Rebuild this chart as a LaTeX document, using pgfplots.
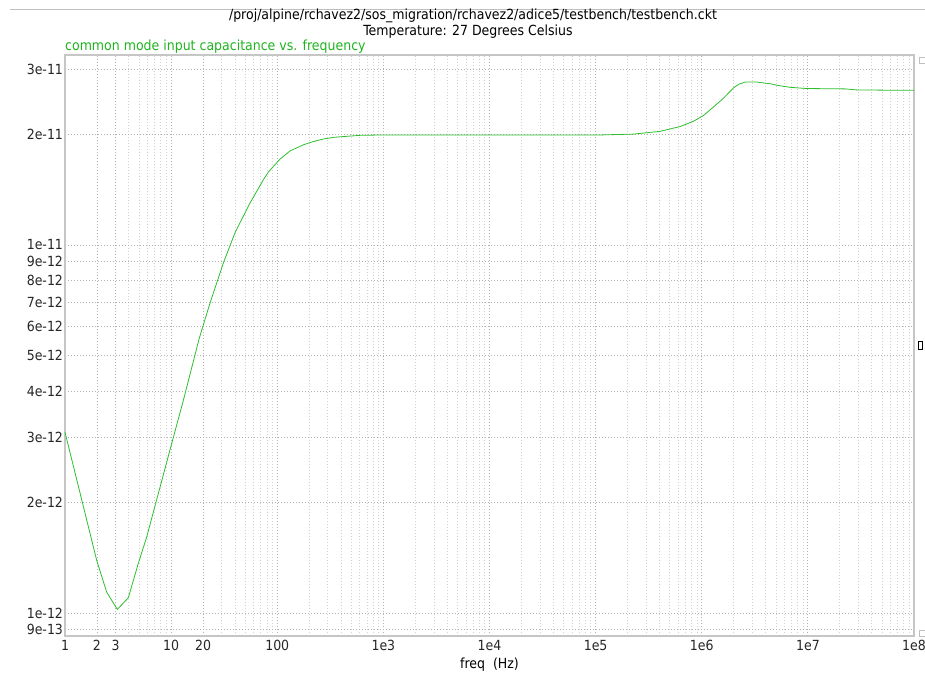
\documentclass[border=0pt]{standalone}
\usepackage{fontspec}
\setmainfont{DejaVu Sans Condensed}
\usepackage{pgfplots}
\pgfplotsset{compat=1.18}
\definecolor{curve}{RGB}{45,190,45}
\definecolor{lbl}{RGB}{30,180,30}
\pgfplotstableread{
f C
1 3.10e-12
1.99 1.39e-12
2.47 1.14e-12
3.11 1.023e-12
3.95 1.10e-12
4.91 1.365e-12
5.89 1.61e-12
10.1 2.88e-12
13.0 3.77e-12
18.3 5.54e-12
23.2 6.94e-12
31 8.92e-12
40 1.08e-11
55.4 1.30e-11
73.9 1.502e-11
82.5 1.578e-11
106 1.71e-11
132 1.80e-11
176 1.87e-11
219 1.91e-11
272 1.94e-11
340 1.96e-11
420 1.97e-11
600 1.985e-11
1000 1.99e-11
1.1e5 1.99e-11
2.27e5 2.0e-11
4.05e5 2.035e-11
6.26e5 2.097e-11
8.36e5 2.168e-11
1.04e6 2.248e-11
1.29e6 2.37e-11
1.60e6 2.503e-11
1.99e6 2.67e-11
2.25e6 2.735e-11
2.57e6 2.77e-11
3.3e6 2.77e-11
4.42e6 2.74e-11
5.28e6 2.71e-11
6.81e6 2.68e-11
9.77e6 2.66e-11
2.24e7 2.654e-11
2.9e7 2.637e-11
5.97e7 2.632e-11
1e8 2.63e-11
}\captable
\begin{document}
\begin{tikzpicture}[x=1bp,y=1bp]
\useasboundingbox (-65,-41) rectangle (860,636);
\draw[gray!50, line width=0.8bp] (-55,627) -- (860,627);
\node[anchor=base, inner sep=0pt, font=\fontsize{14}{16}\selectfont] at (408,616) {/proj/alpine/rchavez2/sos\_migration/rchavez2/adice5/testbench/testbench.ckt};
\node[anchor=base, inner sep=0pt, font=\fontsize{14}{16}\selectfont] at (403,600) {Temperature: 27 Degrees Celsius};
\node[anchor=base west, inner sep=0pt, font=\fontsize{14}{16}\selectfont, text=lbl] at (0,585) {common mode input capacitance vs. frequency};
\begin{axis}[
  at={(0,0)}, anchor=south west, scale only axis,
  width=849bp, height=581bp,
  xmode=log, ymode=log,
  xmin=1, xmax=1e8, ymin=8.66e-13, ymax=3.28e-11,
  axis line style={draw=gray!45, line width=1.3bp},
  major tick length=0pt, minor tick length=0pt,
  xtick={1,2,3,10,20,100,1e3,1e4,1e5,1e6,1e7,1e8},
  xticklabels={1,2,3,10,20,100,1e3,1e4,1e5,1e6,1e7,1e8},
  minor xtick={4,5,6,7,8,9,30,40,50,60,70,80,90,
    200,300,400,500,600,700,800,900,
    2e3,3e3,4e3,5e3,6e3,7e3,8e3,9e3,
    2e4,3e4,4e4,5e4,6e4,7e4,8e4,9e4,
    2e5,3e5,4e5,5e5,6e5,7e5,8e5,9e5,
    2e6,3e6,4e6,5e6,6e6,7e6,8e6,9e6,
    2e7,3e7,4e7,5e7,6e7,7e7,8e7,9e7},
  ytick={9e-13,1e-12,2e-12,3e-12,4e-12,5e-12,6e-12,7e-12,8e-12,9e-12,1e-11,2e-11,3e-11},
  yticklabels={9e-13,1e-12,2e-12,3e-12,4e-12,5e-12,6e-12,7e-12,8e-12,9e-12,1e-11,2e-11,3e-11},
  minor ytick={},
  xmajorgrids, xminorgrids, ymajorgrids,
  major grid style={dash pattern=on 1bp off 2bp, gray!60, line width=0.8bp},
  minor grid style={dash pattern=on 1bp off 2bp, gray!35, line width=0.8bp},
  tick label style={font=\fontsize{14}{16}\selectfont, text=black!85},
  xticklabel style={yshift=-0.5bp},
  yticklabel style={xshift=1.5bp},
  xlabel={freq\ \ (Hz)},
  xlabel style={font=\fontsize{14}{16}\selectfont, at={(rel axis cs:0.5,0)}, anchor=base, yshift=-32bp, xshift=0bp},
]
\addplot[curve, line width=0.8bp, no markers] table[x=f, y=C] {\captable};
\end{axis}
\draw[black, line width=1bp] (853.5,286) rectangle (857.5,294);
\draw[gray!50, line width=0.6bp] (854,573) rectangle (860,579);
\draw[gray!50, line width=0.6bp] (854,0) rectangle (860,6);
\end{tikzpicture}
\end{document}
